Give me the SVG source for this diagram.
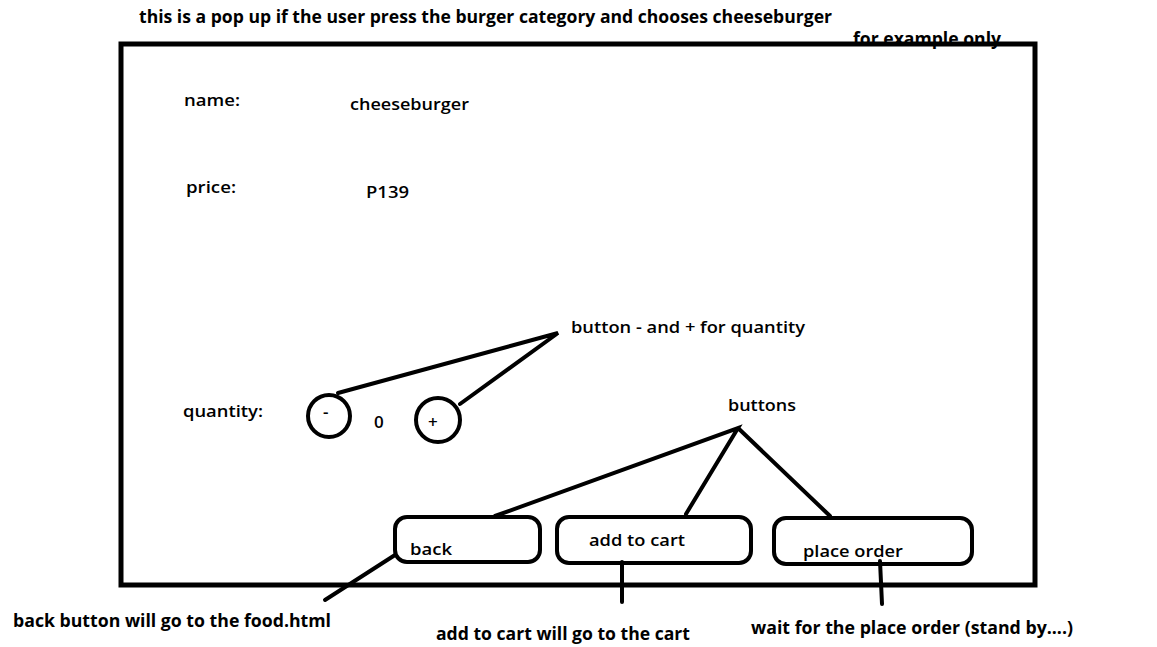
<svg xmlns="http://www.w3.org/2000/svg" width="1157" height="647" viewBox="0 0 1157 647">
<style>
text{font-family:"Open Sans","Liberation Sans",sans-serif;font-weight:600;fill:#000;font-size:17px}
.b{font-weight:700;font-size:18px}
.s{fill:none;stroke:#000;stroke-width:4;stroke-linecap:round}
</style>
<rect width="1157" height="647" fill="#fff"/>
<g id="title"><text class="b" x="139" y="23" textLength="693" lengthAdjust="spacingAndGlyphs">this is a pop up if the user press the burger category and chooses cheeseburger</text></g>
<g id="note"><text class="b" x="853" y="45" textLength="148" lengthAdjust="spacingAndGlyphs">for example only</text></g>
<g id="popup"><rect x="121" y="44" width="914" height="541" fill="none" stroke="#000" stroke-width="5"/></g>
<g id="name"><text x="184" y="106" textLength="56" lengthAdjust="spacingAndGlyphs">name:</text><text x="350" y="110" textLength="119" lengthAdjust="spacingAndGlyphs">cheeseburger</text></g>
<g id="price"><text x="186" y="193" textLength="50" lengthAdjust="spacingAndGlyphs">price:</text><text x="366" y="198" textLength="43" lengthAdjust="spacingAndGlyphs">P139</text></g>
<g id="quantity"><text x="183" y="417" textLength="80" lengthAdjust="spacingAndGlyphs">quantity:</text><text x="374" y="428">0</text></g>
<g id="minus"><circle class="s" cx="329" cy="416" r="21"/><text x="323" y="418">-</text></g>
<g id="plus"><circle class="s" cx="438" cy="420" r="22"/><text x="428" y="428">+</text></g>
<g id="label-qty"><text x="571" y="333" textLength="234" lengthAdjust="spacingAndGlyphs">button - and + for quantity</text></g>
<g id="label-buttons"><text x="728" y="411" textLength="68" lengthAdjust="spacingAndGlyphs">buttons</text></g>
<g id="back"><rect class="s" x="395" y="517" width="145" height="45" rx="12"/><text x="410" y="555" textLength="42" lengthAdjust="spacingAndGlyphs">back</text></g>
<g id="addtocart"><rect class="s" x="557" y="517" width="194" height="46" rx="12"/><text x="589" y="546" textLength="96" lengthAdjust="spacingAndGlyphs">add to cart</text></g>
<g id="placeorder"><rect class="s" x="774" y="518" width="198" height="46" rx="12"/><text x="803" y="557" textLength="100" lengthAdjust="spacingAndGlyphs">place order</text></g>
<g id="note-back"><text class="b" x="13" y="627" textLength="318" lengthAdjust="spacingAndGlyphs">back button will go to the food.html</text></g>
<g id="note-cart"><text class="b" x="436" y="640" textLength="254" lengthAdjust="spacingAndGlyphs">add to cart will go to the cart</text></g>
<g id="note-order"><text class="b" x="751" y="634" textLength="322" lengthAdjust="spacingAndGlyphs">wait for the place order (stand by....)</text></g>
<g id="connectors">
<path class="s" d="M338 393 L558 333 L460 404"/>
<path class="s" d="M495 516 L738 428 L686 514 M738 428 L830 516"/>
<path class="s" d="M395 555 L325 600"/>
<path class="s" d="M622 562 L622 602"/>
<path class="s" d="M880 561 L882 604"/>
</g>
</svg>
